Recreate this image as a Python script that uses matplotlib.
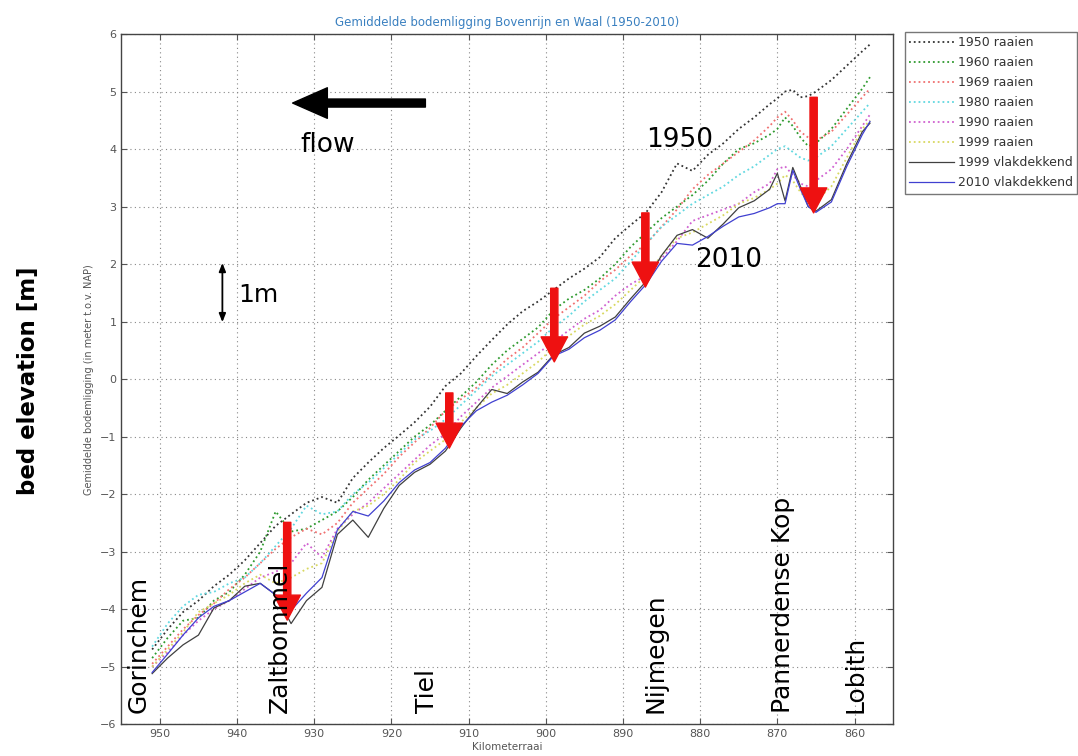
import matplotlib
matplotlib.use("Agg")
import matplotlib.pyplot as plt

# River kilometre (Kilometerraai) stations
KM = [951, 949, 947, 945, 943, 941, 939, 937, 935, 933, 931, 929, 927, 925,
      923, 921, 919, 917, 915, 913, 911, 909, 907, 905, 903, 901, 899, 897,
      895, 893, 891, 889, 887, 885, 883, 881, 879, 877, 875, 873, 871, 870,
      869, 868, 867, 866, 865, 863, 861, 859, 858]

# Mean bed level per survey (m t.o.v. NAP)
BED_1950 = [-4.70, -4.35, -4.05, -3.85, -3.60, -3.40, -3.15, -2.85, -2.55, -2.35,
            -2.15, -2.05, -2.15, -1.72, -1.45, -1.20, -0.98, -0.75, -0.48, -0.12,
            0.10, 0.40, 0.68, 0.95, 1.18, 1.35, 1.55, 1.75, 1.92, 2.12,
            2.45, 2.68, 2.90, 3.25, 3.75, 3.62, 3.90, 4.10, 4.35, 4.55,
            4.78, 4.88, 5.00, 5.03, 4.90, 4.92, 5.00, 5.20, 5.45, 5.70, 5.82]
BED_1960 = [-4.85, -4.50, -4.20, -4.15, -3.85, -3.70, -3.40, -3.00, -2.30, -2.65,
            -2.60, -2.45, -2.30, -2.05, -1.75, -1.50, -1.25, -1.00, -0.80, -0.55,
            -0.30, -0.05, 0.25, 0.50, 0.70, 0.90, 1.20, 1.40, 1.55, 1.75,
            2.00, 2.30, 2.55, 2.80, 3.00, 3.20, 3.45, 3.75, 4.00, 4.10,
            4.25, 4.35, 4.55, 4.40, 4.20, 4.05, 4.10, 4.35, 4.70, 5.05, 5.25]
BED_1969 = [-4.95, -4.65, -4.35, -4.10, -3.90, -3.65, -3.45, -3.20, -2.95, -2.75,
            -2.60, -2.70, -2.50, -2.15, -1.90, -1.65, -1.35, -1.10, -0.85, -0.55,
            -0.35, -0.15, 0.10, 0.35, 0.55, 0.80, 1.05, 1.25, 1.45, 1.70,
            1.90, 2.15, 2.35, 2.65, 2.95, 3.30, 3.55, 3.75, 3.95, 4.15,
            4.40, 4.55, 4.65, 4.50, 4.30, 4.20, 4.15, 4.30, 4.60, 4.90, 5.05]
BED_1980 = [-4.65, -4.25, -3.95, -3.75, -3.70, -3.55, -3.45, -3.20, -2.90, -2.60,
            -2.20, -2.35, -2.30, -2.00, -1.80, -1.55, -1.30, -1.05, -0.90, -0.70,
            -0.45, -0.20, 0.05, 0.25, 0.45, 0.65, 0.90, 1.10, 1.35, 1.55,
            1.75, 2.05, 2.35, 2.65, 2.85, 3.05, 3.20, 3.35, 3.55, 3.70,
            3.90, 4.00, 4.05, 3.95, 3.85, 3.80, 3.85, 4.05, 4.35, 4.65, 4.80]
BED_1990 = [-5.00, -4.75, -4.45, -4.20, -4.00, -3.85, -3.65, -3.45, -3.35, -3.20,
            -2.85, -3.10, -2.60, -2.35, -2.15, -1.90, -1.65, -1.40, -1.15, -0.95,
            -0.65, -0.40, -0.15, 0.05, 0.25, 0.45, 0.65, 0.85, 1.05, 1.20,
            1.45, 1.65, 1.80, 2.10, 2.40, 2.75, 2.85, 2.95, 3.05, 3.25,
            3.40, 3.65, 3.70, 3.55, 3.40, 3.35, 3.45, 3.65, 4.00, 4.40, 4.60]
BED_1999R = [-5.00, -4.70, -4.40, -4.05, -3.90, -3.75, -3.55, -3.40, -3.55, -3.45,
             -3.30, -3.20, -2.65, -2.30, -2.20, -2.00, -1.75, -1.45, -1.25, -1.05,
             -0.75, -0.50, -0.25, -0.10, 0.10, 0.30, 0.55, 0.75, 0.95, 1.10,
             1.30, 1.55, 1.80, 2.15, 2.45, 2.55, 2.70, 2.85, 3.05, 3.15,
             3.30, 3.40, 3.55, 3.45, 3.25, 3.10, 3.10, 3.35, 3.85, 4.35, 4.50]
BED_1999V = [-5.12, -4.85, -4.62, -4.45, -3.98, -3.85, -3.60, -3.55, -3.75, -4.25,
             -3.85, -3.62, -2.70, -2.45, -2.75, -2.25, -1.85, -1.62, -1.48, -1.25,
             -0.85, -0.50, -0.18, -0.25, -0.05, 0.12, 0.42, 0.55, 0.80, 0.92,
             1.08, 1.40, 1.70, 2.15, 2.50, 2.60, 2.45, 2.70, 2.98, 3.10,
             3.30, 3.58, 3.10, 3.68, 3.35, 3.00, 2.92, 3.12, 3.75, 4.30, 4.45]
BED_2010V = [-5.10, -4.78, -4.45, -4.15, -3.95, -3.85, -3.70, -3.55, -3.75, -4.02,
             -3.72, -3.45, -2.62, -2.30, -2.38, -2.12, -1.80, -1.58, -1.45, -1.20,
             -0.82, -0.55, -0.40, -0.28, -0.10, 0.10, 0.40, 0.52, 0.72, 0.85,
             1.03, 1.35, 1.65, 2.05, 2.36, 2.33, 2.48, 2.66, 2.82, 2.88,
             2.98, 3.05, 3.05, 3.63, 3.30, 3.00, 2.90, 3.08, 3.70, 4.25, 4.48]

SERIES = [
    ("1950 raaien", BED_1950, "#333333", ":"),
    ("1960 raaien", BED_1960, "#2e9a2e", ":"),
    ("1969 raaien", BED_1969, "#f07070", ":"),
    ("1980 raaien", BED_1980, "#60d8e0", ":"),
    ("1990 raaien", BED_1990, "#d060d0", ":"),
    ("1999 raaien", BED_1999R, "#d8d860", ":"),
    ("1999 vlakdekkend", BED_1999V, "#404040", "-"),
    ("2010 vlakdekkend", BED_2010V, "#4040d0", "-"),
]

# Places along the river and where their names sit
PLACES = ["Gorinchem", "Zaltbommel", "Tiel", "Nijmegen", "Pannerdense Kop", "Lobith"]
PLACE_KM = [952.7, 934.4, 915.4, 885.8, 869.3, 859.9]

# Bed-lowering arrows: (km, from, to)
DROP_KM = [933.5, 912.5, 898.9, 887.1, 865.3]
DROP_FROM = [-2.49, -0.24, 1.58, 2.89, 4.90]
DROP_TO = [-4.19, -1.20, 0.30, 1.60, 2.89]

fig = plt.figure(figsize=(10.78, 7.56), dpi=100)
ax = fig.add_axes([0.1125, 0.042, 0.716, 0.913])

for name, vals, col, ls in SERIES:
    lw = 1.3 if ls == ":" else 0.9
    ax.plot(KM, vals, color=col, linestyle=ls, linewidth=lw, label=name)

ax.set_xlim(955, 855)
ax.set_ylim(-6, 6)
ax.set_xticks(range(950, 855, -10))
ax.set_yticks(range(-6, 7))
ax.grid(True, linestyle=(0, (1, 3)), color="#888888", linewidth=0.8)
ax.tick_params(direction="in", labelsize=8, labelcolor="#555555", color="#555555",
               length=4, top=True, right=True)
for s in ax.spines.values():
    s.set_color("#444444")
    s.set_linewidth(1.0)

ax.set_title("Gemiddelde bodemligging Bovenrijn en Waal (1950-2010)",
             fontsize=8.5, color="#3a80c0", pad=6)
ax.set_xlabel("Kilometerraai", fontsize=7.5, color="#555555", labelpad=2)
ax.set_ylabel("Gemiddelde bodemligging (in meter t.o.v. NAP)", fontsize=7,
              color="#555555", labelpad=4)

fig.text(0.026, 0.497, "bed elevation [m]", rotation=90, fontsize=16.5,
         fontweight="bold", ha="center", va="center")

leg = fig.legend(loc="upper left", bbox_to_anchor=(0.8395, 0.958), fontsize=9,
                 frameon=True, fancybox=False, edgecolor="#555555",
                 handlelength=3.6, handletextpad=0.3, labelspacing=0.56,
                 borderpad=0.35, borderaxespad=0)
for t in leg.get_texts():
    t.set_color("#333333")

# Flow direction
ax.annotate("", xy=(932.8, 4.80), xytext=(915.6, 4.80),
            arrowprops=dict(width=5.8, headwidth=22, headlength=25,
                            facecolor="black", edgecolor="black", shrink=0))
ax.text(928.2, 4.07, "flow", fontsize=19, ha="center", va="center")

# Scale bar
ax.annotate("", xy=(941.9, 2.02), xytext=(941.9, 0.99),
            arrowprops=dict(arrowstyle="<|-|>,head_length=0.5,head_width=0.2",
                            color="black", lw=1.3, shrinkA=0, shrinkB=0))
ax.text(939.9, 1.46, "1m", fontsize=18, ha="left", va="center")

ax.text(882.7, 4.16, "1950", fontsize=19, ha="center", va="center")
ax.text(876.3, 2.07, "2010", fontsize=19, ha="center", va="center")

for k, y0, y1 in zip(DROP_KM, DROP_FROM, DROP_TO):
    ax.annotate("", xy=(k, y1), xytext=(k, y0),
                arrowprops=dict(width=5.2, headwidth=19, headlength=18,
                                facecolor="#ee1111", edgecolor="#ee1111", shrink=0))

for name, k in zip(PLACES, PLACE_KM):
    ax.text(k, -5.8, name, rotation=90, fontsize=18, ha="center", va="bottom")

fig.savefig("out.png", dpi=100)
